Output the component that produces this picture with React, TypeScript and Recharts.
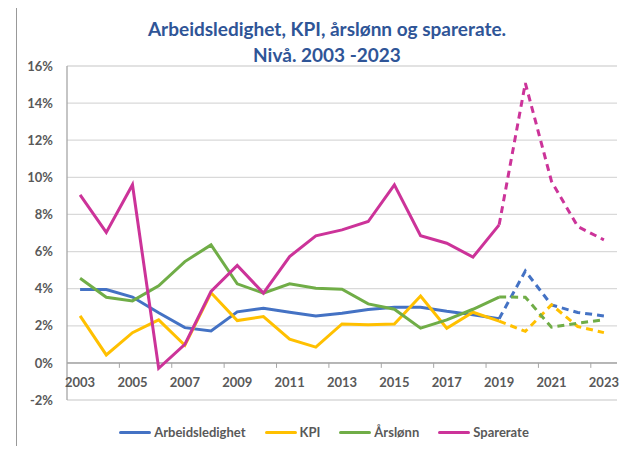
import { LineChart, Line, XAxis, YAxis, CartesianGrid, ReferenceLine } from "recharts";

const years = [
  2003, 2004, 2005, 2006, 2007, 2008, 2009, 2010, 2011, 2012, 2013, 2014, 2015, 2016, 2017, 2018,
  2019, 2020, 2021, 2022, 2023,
];
// 2003-2019 drawn solid, 2019-2023 dashed (forecast)
const lastActual = 2019;

const arbeidsledighet = [3.95, 3.95, 3.55, 2.7, 1.9, 1.72, 2.75, 2.95, 2.73, 2.53, 2.68, 2.88, 3.0, 3.0, 2.78, 2.6, 2.38, 4.95, 3.12, 2.72, 2.53];
const kpi = [2.53, 0.43, 1.63, 2.32, 0.95, 3.78, 2.28, 2.5, 1.28, 0.85, 2.1, 2.05, 2.1, 3.6, 1.87, 2.73, 2.25, 1.7, 3.13, 1.96, 1.63];
const aarslonn = [4.56, 3.54, 3.34, 4.15, 5.46, 6.36, 4.26, 3.76, 4.26, 4.02, 3.97, 3.18, 2.89, 1.87, 2.32, 2.89, 3.55, 3.54, 1.92, 2.14, 2.32];
const sparerate = [9.06, 7.03, 9.6, -0.29, 1.0, 3.85, 5.25, 3.76, 5.73, 6.85, 7.17, 7.62, 9.6, 6.85, 6.45, 5.7, 7.44, 15.08, 9.78, 7.35, 6.63];

const yTicks = [-2, 0, 2, 4, 6, 8, 10, 12, 14, 16];
const xTicks = [2003, 2005, 2007, 2009, 2011, 2013, 2015, 2017, 2019, 2021, 2023];
const minorTicks = [2004.5, 2006.5, 2008.5, 2010.5, 2012.5, 2014.5, 2016.5, 2018.5, 2020.5, 2022.5];

const series = [
  { key: "arb", label: "Arbeidsledighet", color: "#4472C4", values: arbeidsledighet },
  { key: "kpi", label: "KPI", color: "#FFC000", values: kpi },
  { key: "lonn", label: "Årslønn", color: "#70AD47", values: aarslonn },
  { key: "spar", label: "Sparerate", color: "#CC3399", values: sparerate },
];

const data = years.map((year, i) => {
  const row: Record<string, number | null> = { year };
  series.forEach((s) => {
    row[s.key] = year <= lastActual ? s.values[i] : null;
    row[s.key + "Prog"] = year >= lastActual ? s.values[i] : null;
  });
  return row;
});

const W = 635;
const H = 454;
const AXIS_H = 15;
const margin = { top: 66, right: 18, bottom: 24, left: 0 };
const Y_MIN = -2;
const Y_MAX = 16;
const plotH = H - margin.top - margin.bottom - 2 * AXIS_H;
const zeroY = margin.top + (plotH * Y_MAX) / (Y_MAX - Y_MIN);

const FONT = "Lato, 'Open Sans', sans-serif";
const GREY = "#595959";

const YearTick = (props: any) => {
  const { x, payload } = props;
  return (
    <text x={x} y={zeroY + 24} textAnchor="middle" fill={GREY} fontSize={13} fontWeight={700} fontFamily={FONT}>
      {payload.value}
    </text>
  );
};

const MinorTick = (props: any) => {
  const { x } = props;
  return <line x1={x} x2={x} y1={zeroY} y2={zeroY + 5} stroke="#A6A6A6" strokeWidth={1} />;
};

export default function App() {
  return (
    <div style={{ position: "relative", margin: -8, width: W, height: H, overflow: "hidden", background: "#fff", fontFamily: FONT }}>
      <div style={{ position: "absolute", left: 16, top: 3, right: 0, bottom: 0, borderTop: "2px solid #999", borderLeft: "1.5px solid #999" }} />
      <div
        style={{
          position: "absolute",
          left: 0,
          width: 654,
          top: 16,
          textAlign: "center",
          color: "#2F5597",
          fontWeight: 700,
          fontSize: 19,
          lineHeight: "26px",
        }}
      >
        <div>Arbeidsledighet, KPI, årslønn og sparerate.</div>
        <div>Nivå. 2003 -2023</div>
      </div>
      <div style={{ position: "absolute", left: 0, top: 0 }}>
        <LineChart width={W} height={H} data={data} margin={margin}>
          <CartesianGrid horizontal vertical={false} stroke="#D9D9D9" strokeWidth={1.3} />
          <XAxis
            dataKey="year"
            type="number"
            domain={[2002.5, 2023.5]}
            ticks={xTicks}
            interval={0}
            axisLine={false}
            tickLine={false}
            height={AXIS_H}
            tick={(p: any) => <YearTick {...p} />}
          />
          <XAxis
            xAxisId="minor"
            dataKey="year"
            type="number"
            domain={[2002.5, 2023.5]}
            ticks={minorTicks}
            interval={0}
            axisLine={false}
            tickLine={false}
            height={AXIS_H}
            tick={(p: any) => <MinorTick {...p} />}
          />
          <YAxis
            type="number"
            domain={[Y_MIN, Y_MAX]}
            ticks={yTicks}
            interval={0}
            width={67}
            axisLine={{ stroke: "#A6A6A6", strokeWidth: 1.3 }}
            tickLine={false}
            tickMargin={8}
            tickFormatter={(v: number) => `${v}%`}
            tick={{ fill: GREY, fontSize: 13, fontWeight: 700, fontFamily: FONT }}
          />
          <ReferenceLine y={0} stroke="#A6A6A6" strokeWidth={1.5} />
          {series.map((s) => (
            <Line
              key={s.key}
              type="linear"
              dataKey={s.key}
              stroke={s.color}
              strokeWidth={3}
              dot={false}
              connectNulls={false}
              isAnimationActive={false}
            />
          ))}
          {series.map((s) => (
            <Line
              key={s.key + "Prog"}
              type="linear"
              dataKey={s.key + "Prog"}
              stroke={s.color}
              strokeWidth={3}
              strokeDasharray="7 5"
              dot={false}
              connectNulls={false}
              isAnimationActive={false}
            />
          ))}
        </LineChart>
      </div>
      <div
        style={{
          position: "absolute",
          left: 0,
          width: 648,
          top: 424,
          display: "flex",
          justifyContent: "center",
          gap: 19,
          color: GREY,
          fontSize: 13,
          fontWeight: 700,
        }}
      >
        {series.map((s) => (
          <div key={s.key} style={{ display: "flex", alignItems: "center", gap: 3 }}>
            <span style={{ display: "inline-block", width: 32, height: 3, background: s.color, borderRadius: 2 }} />
            <span>{s.label}</span>
          </div>
        ))}
      </div>
    </div>
  );
}
